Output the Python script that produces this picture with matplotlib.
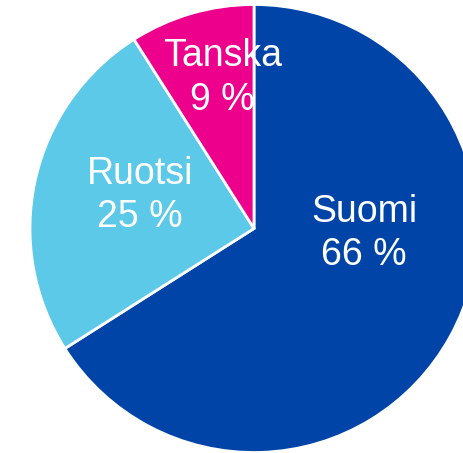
import matplotlib
matplotlib.use("Agg")
import matplotlib.pyplot as plt
import numpy as np

categories = ["Suomi", "Ruotsi", "Tanska"]
values = [66, 25, 9]
colors = ["#0044A8", "#5BC9E7", "#EC008C"]
# label anchor positions (fraction of radius, relative to centre); baseline of last line
label_xy = [(0.491, -0.165), (-0.509, 0.006), (-0.141, 0.531)]

W, H = 463, 453
fig = plt.figure(figsize=(W / 100, H / 100), dpi=100)
ax = fig.add_axes([0, 0, 1, 1])
R = 224.0
cx, cy = 254.0, 453 - 228.5

ax.pie(values, colors=colors, startangle=90, counterclock=False, radius=1.0,
       wedgeprops=dict(edgecolor="white", linewidth=2))
for cat, v, (lx, ly) in zip(categories, values, label_xy):
    ax.text(lx, ly, f"{cat}\n{v} %", ha="center", va="baseline", color="white",
            fontsize=27, family="Liberation Sans", linespacing=1.26)

ax.set_xlim(-cx / R, (W - cx) / R)
ax.set_ylim(-cy / R, (H - cy) / R)
ax.set_aspect("auto")
ax.axis("off")
fig.savefig("out.png", dpi=100)
